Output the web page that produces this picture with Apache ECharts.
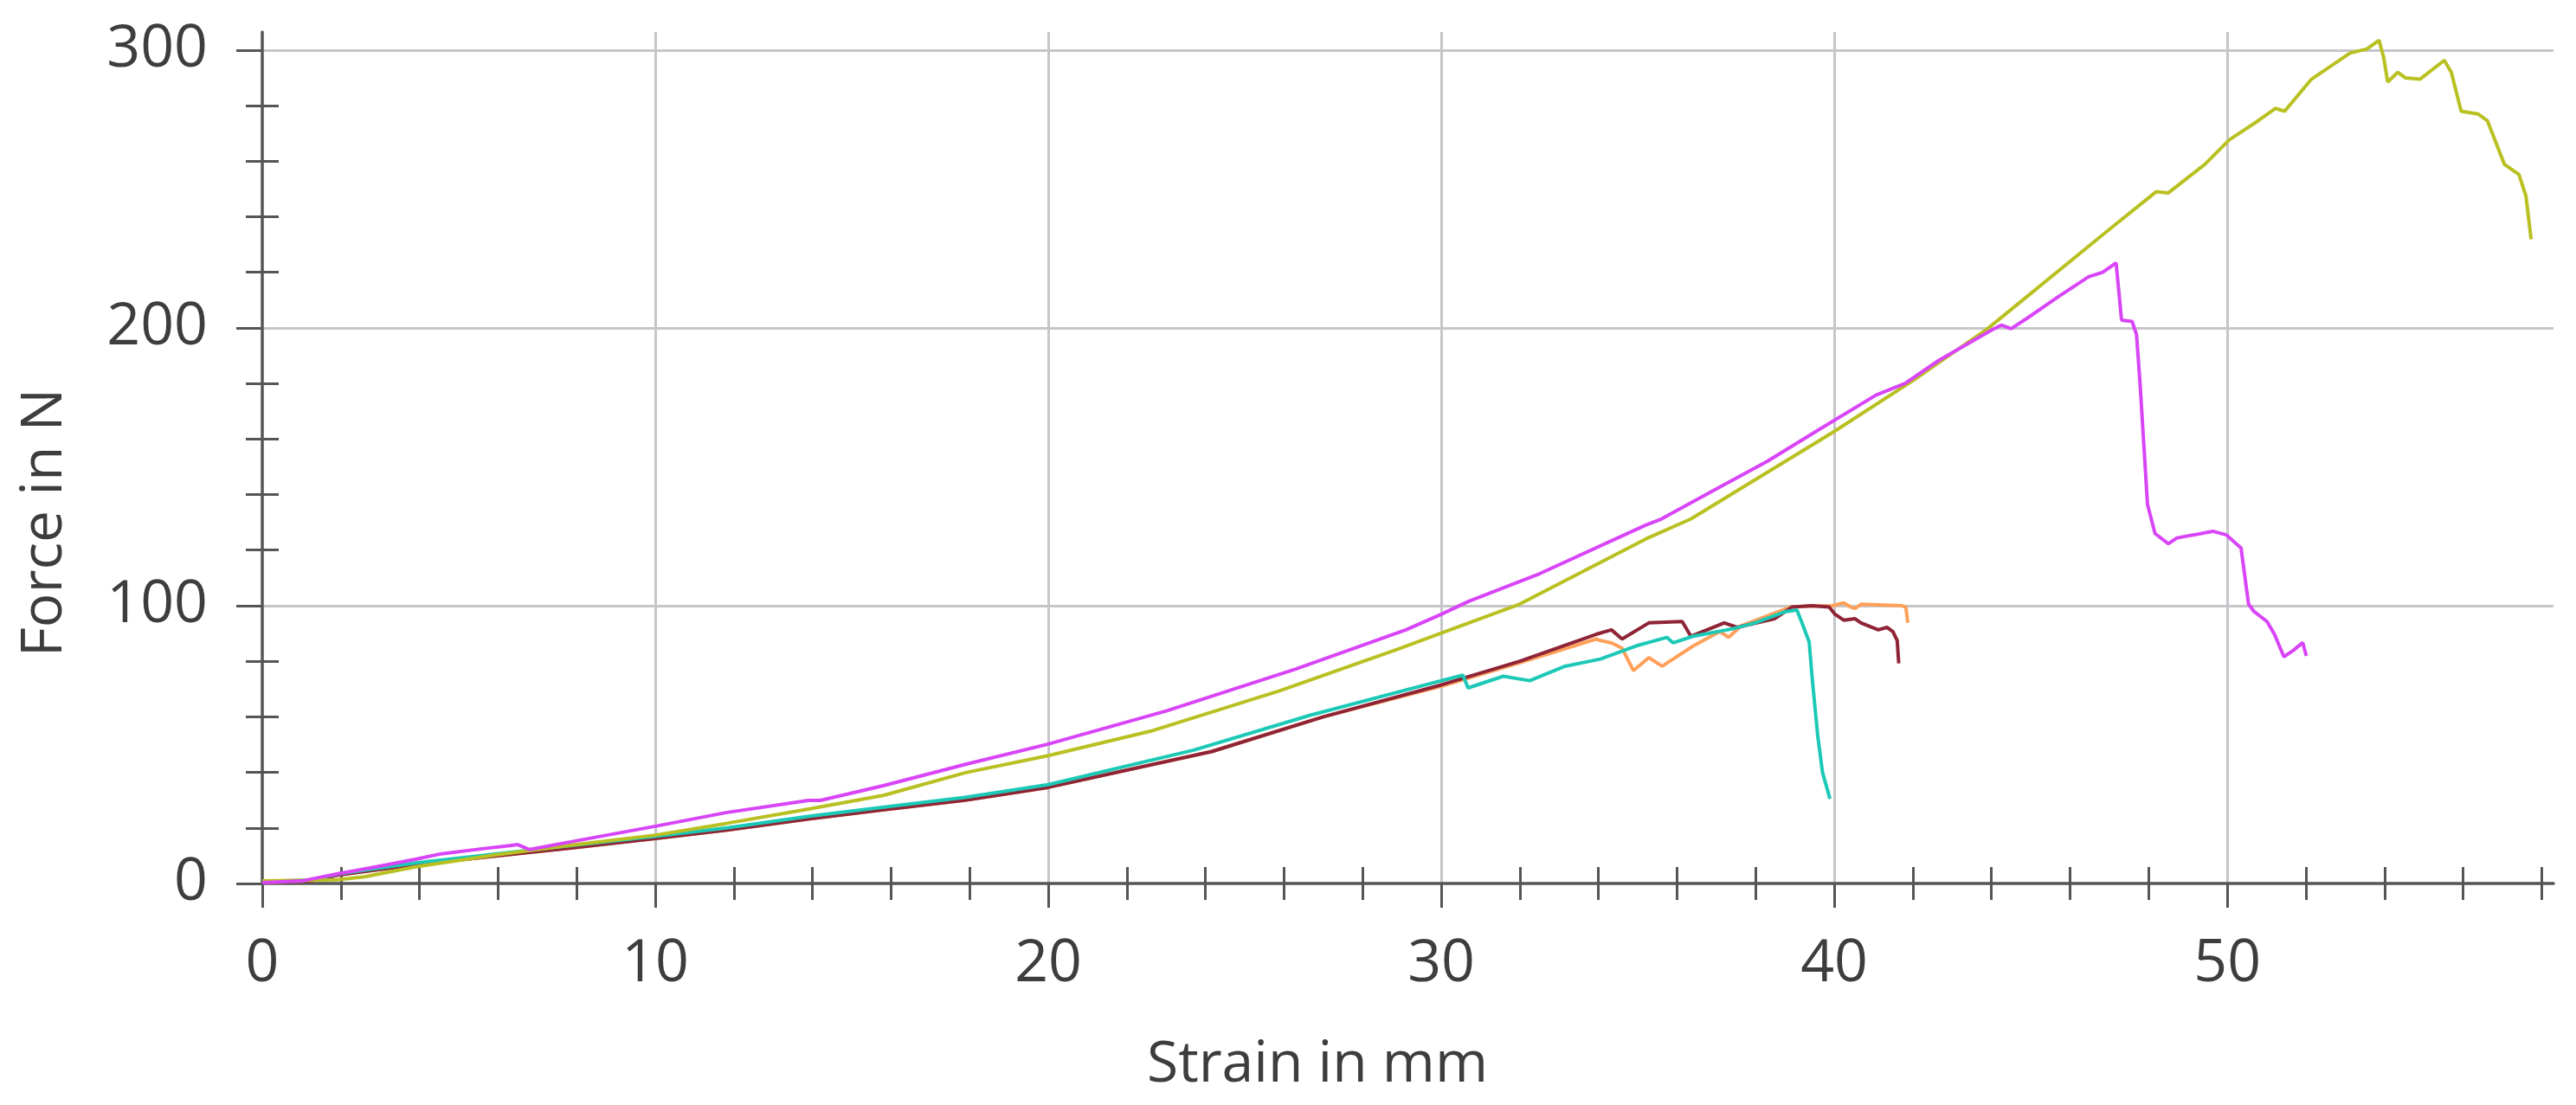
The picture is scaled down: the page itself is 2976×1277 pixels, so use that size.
<!DOCTYPE html>
<html>
<head>
<meta charset="utf-8">
<script src="https://cdn.jsdelivr.net/npm/echarts@6/dist/echarts.min.js"></script>
<style>
html,body{margin:0;padding:0;background:#ffffff;}
#chart{width:2976px;height:1277px;}
</style>
</head>
<body>
<div id="chart"></div>
<script>
// ---- tick labels ----
const xTicks = [0, 10, 20, 30, 40, 50];
const yTicks = [0, 100, 200, 300];
const xAxisName = 'Strain in mm';
const yAxisName = 'Force in N';

// ---- series data (strain in mm, force in N) ----
const magentaStrain = [0, 1.0, 1.9, 2.9, 3.9, 4.56, 5.6, 6.3, 6.5, 6.8, 7.85, 10, 11.8, 13.9, 14.2, 15.8, 17.9, 20, 23, 26.3, 29.1, 30, 30.7, 32.5, 35.2, 35.6, 37, 38.3, 39.6, 41.06, 41.8, 42.66, 44.0, 44.25, 44.5, 44.9, 45.7, 46.47, 46.83, 47.17, 47.31, 47.58, 47.69, 47.78, 47.88, 47.97, 48.16, 48.5, 48.72, 49.16, 49.63, 49.97, 50.35, 50.54, 50.68, 51.01, 51.2, 51.44, 51.68, 51.92, 52.01];
const magentaForce  = [0.3, 0.9, 3.4, 6.0, 8.7, 10.7, 12.5, 13.6, 14.0, 12.2, 15.0, 20.6, 25.5, 29.9, 29.9, 35.2, 42.9, 50.2, 62.1, 77.2, 91.3, 96.9, 101.6, 111.5, 129, 131.2, 142, 152, 163.3, 175.8, 180, 188.3, 199.2, 201, 199.7, 203.4, 211.2, 218.4, 220, 223.4, 202.8, 202.3, 197.6, 180, 157, 136.4, 126, 122.3, 124.4, 125.5, 126.8, 125.5, 120.8, 100.6, 97.9, 94.3, 89.7, 81.6, 83.9, 86.7, 81.9];

const yellowStrain = [0, 1.9, 2.6, 3.9, 5.9, 7.85, 10, 11.8, 13.9, 15.8, 17.9, 20, 22.6, 25.9, 28.9, 30, 32, 35.2, 36.35, 39.95, 42, 43.9, 46.96, 48.19, 48.5, 49.43, 50.05, 50.78, 51.22, 51.46, 52.14, 53.12, 53.55, 53.86, 53.98, 54.08, 54.34, 54.53, 54.9, 55.52, 55.7, 55.95, 56.38, 56.62, 57.05, 57.42, 57.6, 57.73];
const yellowForce  = [0.9, 1.3, 2.4, 6.0, 10.2, 13.8, 17.4, 21.6, 26.8, 31.7, 39.9, 46.0, 54.8, 69.4, 84.4, 90.1, 100.6, 124, 131.2, 162.3, 181, 199.7, 235, 249, 248.6, 258.9, 267.7, 274.5, 279, 278, 289.5, 298.9, 300.4, 303.5, 297.3, 288.5, 292, 290, 289.5, 296.3, 292, 278, 277, 274.5, 258.9, 255.2, 247.4, 231.9];

const tealStrain = [0, 1.26, 1.92, 3.9, 5.88, 7.85, 10, 11.82, 13.93, 15.77, 17.88, 20, 23.7, 26.65, 30, 30.55, 30.68, 31.58, 32.25, 33.15, 34.05, 34.95, 35.74, 35.9, 36.41, 37.42, 37.98, 38.77, 39.05, 39.2, 39.36, 39.45, 39.58, 39.7, 39.8, 39.89];
const tealForce  = [0.5, 1.3, 3.4, 7.4, 10.5, 13.6, 17.0, 20.0, 24.2, 27.4, 31.0, 35.6, 48.0, 60.5, 73.0, 75.0, 70.4, 74.6, 73.0, 78.2, 80.8, 85.5, 88.6, 86.6, 89.0, 91.7, 93.8, 97.9, 98.4, 93.0, 87.0, 72.0, 53.0, 40.0, 35.0, 30.5];

const orangeStrain = [0, 1.26, 1.92, 3.9, 5.88, 7.85, 10, 11.82, 13.93, 15.77, 17.88, 20, 24.16, 27, 30, 32, 33.94, 34.05, 34.33, 34.6, 34.89, 35.28, 35.62, 36.41, 37.09, 37.31, 37.64, 38.88, 39.4, 39.95, 40.24, 40.42, 40.53, 40.68, 41.71, 41.82, 41.87];
const orangeForce  = [0.3, 1.0, 3.0, 6.8, 9.8, 12.8, 16.2, 19.2, 23.3, 26.5, 30.0, 34.6, 47.5, 60.0, 71.0, 79.5, 88.0, 87.5, 86.6, 84.7, 76.6, 81.3, 78.2, 85.5, 90.7, 88.6, 92.8, 99.5, 99.8, 100, 101, 99.5, 99.0, 100.5, 100, 99.5, 93.8];

const maroonStrain = [0, 1.26, 1.92, 3.9, 5.88, 7.85, 10, 11.82, 13.93, 15.77, 17.88, 20, 24.16, 27, 30, 32, 33.94, 34.33, 34.6, 35.28, 36.13, 36.35, 37.2, 37.53, 38.48, 38.92, 39.43, 39.87, 40.02, 40.24, 40.53, 40.68, 41.12, 41.34, 41.49, 41.6, 41.64];
const maroonForce  = [0.3, 1.0, 3.0, 6.8, 9.8, 12.8, 16.2, 19.2, 23.3, 26.5, 30.0, 34.6, 47.5, 60.0, 71.5, 80.0, 89.7, 91.3, 88.0, 93.8, 94.3, 89.0, 93.8, 92.2, 95.3, 99.5, 100, 99.5, 96.9, 94.8, 95.3, 93.8, 91.3, 92.2, 90.7, 87.5, 79.2];

// ---- layout / style constants ----
const X_MAX = 58.3, Y_MAX = 306.5;
const PLOT = {left: 303, top: 37, width: 2647, height: 984};
const AXIS_C = '#555555', GRID_C = '#c6c6ca', TEXT_C = '#3d3d3d', FONT = 'Open Sans';

const pxPerX = PLOT.width / X_MAX;
const pxPerY = PLOT.height / Y_MAX;
const xStep = xTicks[1] - xTicks[0], yStep = yTicks[1] - yTicks[0];
const xMajMax = xTicks[xTicks.length - 1], yMajMax = yTicks[yTicks.length - 1];

const baseGrid = {containLabel: false, outerBoundsMode: 'none', show: false};
const grid = [
  Object.assign({}, baseGrid, PLOT),
  Object.assign({}, baseGrid, {left: PLOT.left, top: PLOT.top, width: xMajMax * pxPerX, height: PLOT.height}),
  Object.assign({}, baseGrid, {left: PLOT.left, top: PLOT.top + PLOT.height - yMajMax * pxPerY, width: PLOT.width, height: yMajMax * pxPerY})
];

const minorTick = {show: true, splitNumber: 5, length: 19, lineStyle: {color: AXIS_C, width: 3}};
const hiddenBits = {axisLabel: {show: false}, splitLine: {show: false}, minorSplitLine: {show: false}};
const labelStyle = {fontSize: 68, fontFamily: FONT, color: TEXT_C, showMinLabel: true, showMaxLabel: true};

const xAxis = [
  Object.assign({gridIndex: 0, type: 'value', min: 0, max: X_MAX, interval: xStep, position: 'bottom',
    axisLine: {show: true, onZero: false, lineStyle: {color: AXIS_C, width: 3.5}},
    axisTick: {show: false, inside: false}, minorTick: minorTick}, hiddenBits),
  Object.assign({gridIndex: 0, type: 'value', min: 0, max: X_MAX, interval: xStep, position: 'bottom',
    axisLine: {show: false, onZero: false},
    axisTick: {show: false, inside: true}, minorTick: minorTick}, hiddenBits),
  {gridIndex: 1, type: 'value', min: xTicks[0], max: xMajMax, interval: xStep, position: 'bottom',
    axisLine: {show: false, onZero: false},
    axisTick: {show: true, inside: false, length: 28, lineStyle: {color: AXIS_C, width: 3}},
    axisLabel: Object.assign({show: true, margin: 60}, labelStyle),
    splitLine: {show: true, showMinLine: false, showMaxLine: true, lineStyle: {color: GRID_C, width: 3}},
    minorTick: {show: false}},
  {gridIndex: 2, type: 'value', min: 0, max: X_MAX, show: false}
];

const yAxis = [
  Object.assign({gridIndex: 0, type: 'value', min: 0, max: Y_MAX, interval: yStep, position: 'left',
    axisLine: {show: true, onZero: false, lineStyle: {color: AXIS_C, width: 3.5}},
    axisTick: {show: false, inside: false}, minorTick: minorTick}, hiddenBits),
  Object.assign({gridIndex: 0, type: 'value', min: 0, max: Y_MAX, interval: yStep, position: 'left',
    axisLine: {show: false, onZero: false},
    axisTick: {show: false, inside: true}, minorTick: minorTick}, hiddenBits),
  {gridIndex: 1, type: 'value', min: 0, max: Y_MAX, show: false},
  {gridIndex: 2, type: 'value', min: yTicks[0], max: yMajMax, interval: yStep, position: 'left',
    axisLine: {show: false, onZero: false},
    axisTick: {show: true, inside: false, length: 30, lineStyle: {color: AXIS_C, width: 3}},
    axisLabel: Object.assign({show: true, margin: 63}, labelStyle),
    splitLine: {show: true, showMinLine: false, showMaxLine: true, lineStyle: {color: GRID_C, width: 3}},
    minorTick: {show: false}}
];

function pairs(xs, ys) { return xs.map((x, i) => [x, ys[i]]); }

const samples = [
  {x: orangeStrain,  y: orangeForce,  color: '#ffa05a'},
  {x: maroonStrain,  y: maroonForce,  color: '#8e2436'},
  {x: tealStrain,    y: tealForce,    color: '#1cc9b6'},
  {x: yellowStrain,  y: yellowForce,  color: '#b9c021'},
  {x: magentaStrain, y: magentaForce, color: '#d845f7'}
];

const series = samples.map((s, i) => ({
  type: 'line', xAxisIndex: 0, yAxisIndex: 0,
  data: pairs(s.x, s.y),
  showSymbol: false, symbol: 'none', silent: true, z: 3 + i,
  lineStyle: {color: s.color, width: 4},
  itemStyle: {color: s.color}
}));

const chart = echarts.init(document.getElementById('chart'), null, {renderer: 'canvas'});
chart.setOption({
  animation: false,
  backgroundColor: '#ffffff',
  grid: grid,
  xAxis: xAxis,
  yAxis: yAxis,
  series: series,
  graphic: [
    {type: 'text', x: 1522, y: 1231, silent: true,
      style: {text: xAxisName, fontSize: 66, fontFamily: FONT, fill: TEXT_C, align: 'center', verticalAlign: 'middle'}},
    {type: 'text', x: 52, y: 604, rotation: Math.PI / 2, silent: true,
      style: {text: yAxisName, fontSize: 66, fontFamily: FONT, fill: TEXT_C, align: 'center', verticalAlign: 'middle'}}
  ]
});
</script>
</body>
</html>
